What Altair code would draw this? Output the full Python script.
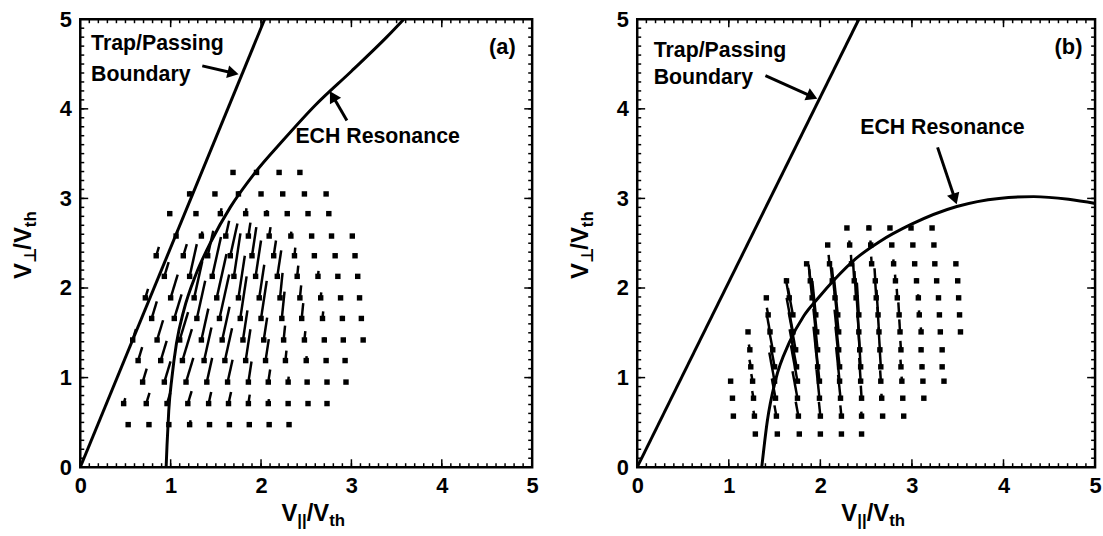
import math
import altair as alt
import pandas as pd

FONT = "Liberation Sans, Arial, DejaVu Sans, sans-serif"
H = 452
W_A = 456
W_B = 462

# ---------------- Panel (a) data ----------------
A_TRAP_X = [0.0, 2.04]
A_TRAP_Y = [0.0, 5.0]
A_ECH_X = [0.95, 0.96, 0.979, 1.014, 1.064, 1.148, 1.275, 1.448, 1.659, 1.928, 2.254, 2.60, 3.0, 3.39, 3.58]
A_ECH_Y = [0.0, 0.25, 0.63, 1.00, 1.38, 1.76, 2.14, 2.52, 2.90, 3.28, 3.66, 4.04, 4.42, 4.80, 5.0]

A_ROWS_Y = [0.475, 0.71, 0.95, 1.19, 1.42, 1.66, 1.89, 2.13, 2.36, 2.58, 2.83, 3.05, 3.29]
A_ROWS_X = [
    [0.53, 0.76, 0.98, 1.21, 1.43, 1.65, 1.87, 2.09, 2.31],
    [0.48, 0.73, 0.96, 1.19, 1.42, 1.64, 1.86, 2.08, 2.30, 2.52, 2.73],
    [0.69, 0.93, 1.17, 1.40, 1.63, 1.86, 2.08, 2.30, 2.51, 2.73, 2.94],
    [0.64, 0.89, 1.13, 1.37, 1.60, 1.83, 2.05, 2.27, 2.50, 2.72, 2.93],
    [0.58, 0.85, 1.10, 1.34, 1.57, 1.80, 2.03, 2.25, 2.48, 2.70, 2.91, 3.13],
    [0.79, 1.04, 1.29, 1.54, 1.77, 2.00, 2.23, 2.45, 2.68, 2.90, 3.11],
    [0.72, 1.00, 1.26, 1.51, 1.75, 1.98, 2.21, 2.43, 2.66, 2.88, 3.09],
    [0.93, 1.21, 1.46, 1.70, 1.94, 2.18, 2.40, 2.63, 2.85, 3.07],
    [0.84, 1.14, 1.41, 1.66, 1.90, 2.14, 2.37, 2.59, 2.82, 3.04],
    [1.06, 1.34, 1.61, 1.86, 2.09, 2.33, 2.56, 2.78, 3.01],
    [0.99, 1.28, 1.55, 1.83, 2.06, 2.29, 2.52, 2.75],
    [1.21, 1.49, 1.75, 2.00, 2.24, 2.48, 2.72],
    [1.69, 1.95, 2.20, 2.43],
]
A_ROWS_L = [
    [0, 0, 0, 0.05, 0, 0, 0, 0, 0],
    [0.06, 0.12, 0.12, 0.14, 0.13, 0.13, 0.10, 0.05, 0.02, 0, 0],
    [0.15, 0.23, 0.27, 0.27, 0.25, 0.23, 0.14, 0.06, 0.02, 0, 0],
    [0.15, 0.22, 0.35, 0.37, 0.36, 0.35, 0.24, 0.11, 0.05, 0.02, 0],
    [0.12, 0.22, 0.31, 0.35, 0.37, 0.33, 0.25, 0.16, 0.10, 0.03, 0, 0],
    [0.19, 0.27, 0.42, 0.49, 0.47, 0.42, 0.30, 0.17, 0.08, 0.03, 0],
    [0.10, 0.26, 0.41, 0.49, 0.47, 0.37, 0.28, 0.14, 0.06, 0.02, 0],
    [0.16, 0.36, 0.44, 0.48, 0.40, 0.29, 0.12, 0.06, 0.02, 0],
    [0.10, 0.13, 0.28, 0.36, 0.32, 0.17, 0.09, 0.03, 0, 0],
    [0.05, 0.05, 0.17, 0.15, 0.10, 0.05, 0.02, 0, 0],
    [0, 0, 0.06, 0.06, 0.04, 0.02, 0, 0],
    [0.03, 0, 0.03, 0.02, 0, 0, 0],
    [0, 0, 0, 0],
]
# lean (dx per unit dy) of the vectors, read in x bands
A_LEAN_X = [0.0, 1.2, 1.7, 2.2]
A_LEAN = [0.30, 0.22, 0.15, 0.10]

A_TEXT_X = [0.12, 0.12, 2.38]
A_TEXT_Y = [4.72, 4.38, 3.68]
A_TEXT = ["Trap/Passing", "Boundary", "ECH Resonance"]
A_ARROW_X1 = [1.35, 2.95]
A_ARROW_Y1 = [4.48, 3.87]
A_ARROW_X2 = [1.755, 2.76]
A_ARROW_Y2 = [4.385, 4.20]
A_TAG = "(a)"
A_TAG_XY = [4.67, 4.69]

# ---------------- Panel (b) data ----------------
B_TRAP_X = [0.0, 2.42]
B_TRAP_Y = [0.0, 5.0]
B_ECH_X = [1.36, 1.42, 1.51, 1.66, 1.82, 1.97, 2.16, 2.39, 2.65, 2.99, 3.49, 3.95, 4.33, 4.71, 5.02]
B_ECH_Y = [0.0, 0.51, 0.97, 1.39, 1.69, 1.88, 2.10, 2.33, 2.52, 2.71, 2.91, 3.00, 3.02, 2.99, 2.94]

B_ROWS_Y = [0.37, 0.57, 0.77, 0.96, 1.12, 1.31, 1.51, 1.70, 1.89, 2.08, 2.27, 2.48, 2.67]
B_ROWS_X = [
    [1.29, 1.53, 1.77, 2.00, 2.23, 2.45],
    [1.05, 1.28, 1.52, 1.76, 2.00, 2.23, 2.45, 2.68, 2.91],
    [1.04, 1.27, 1.51, 1.75, 1.99, 2.22, 2.45, 2.67, 2.90, 3.13],
    [1.02, 1.26, 1.50, 1.75, 1.99, 2.21, 2.44, 2.66, 2.89, 3.12, 3.35],
    [1.24, 1.50, 1.74, 1.97, 2.21, 2.44, 2.66, 2.88, 3.11, 3.33],
    [1.23, 1.48, 1.73, 1.97, 2.20, 2.43, 2.65, 2.88, 3.10, 3.33],
    [1.21, 1.45, 1.70, 1.96, 2.20, 2.42, 2.64, 2.87, 3.10, 3.31, 3.53],
    [1.43, 1.70, 1.95, 2.19, 2.42, 2.63, 2.86, 3.08, 3.30, 3.52],
    [1.41, 1.66, 1.91, 2.16, 2.39, 2.61, 2.84, 3.07, 3.29, 3.51],
    [1.63, 1.89, 2.13, 2.37, 2.60, 2.82, 3.05, 3.27, 3.50],
    [1.85, 2.10, 2.34, 2.56, 2.80, 3.03, 3.25, 3.48],
    [2.08, 2.32, 2.55, 2.78, 3.01, 3.24],
    [2.29, 2.53, 2.76, 2.99, 3.22],
]
B_ROWS_L = [
    [0, 0, 0, 0, 0, 0],
    [0, 0.06, 0.12, 0.16, 0.16, 0.12, 0.05, 0, 0],
    [0, 0.08, 0.22, 0.30, 0.32, 0.26, 0.14, 0.05, 0.02, 0],
    [0, 0.08, 0.32, 0.40, 0.42, 0.38, 0.26, 0.12, 0.05, 0.02, 0],
    [0.08, 0.24, 0.42, 0.45, 0.45, 0.38, 0.22, 0.08, 0.03, 0],
    [0.06, 0.25, 0.42, 0.46, 0.45, 0.38, 0.25, 0.10, 0.03, 0],
    [0, 0.18, 0.38, 0.45, 0.44, 0.38, 0.28, 0.14, 0.05, 0.02, 0],
    [0.08, 0.30, 0.38, 0.42, 0.36, 0.28, 0.14, 0.05, 0.02, 0],
    [0, 0.22, 0.32, 0.34, 0.30, 0.20, 0.10, 0.04, 0, 0],
    [0, 0.18, 0.22, 0.20, 0.14, 0.07, 0.03, 0, 0],
    [0, 0.10, 0.10, 0.08, 0.05, 0.02, 0, 0],
    [0, 0.05, 0.05, 0.02, 0, 0],
    [0, 0.03, 0, 0, 0],
]
B_LEAN_X = [0.0, 1.8, 2.3]
B_LEAN = [-0.18, -0.10, -0.06]

B_TEXT_X = [0.18, 0.18, 2.435]
B_TEXT_Y = [4.65, 4.34, 3.78]
B_TEXT = ["Trap/Passing", "Boundary", "ECH Resonance"]
B_ARROW_X1 = [1.40, 3.28]
B_ARROW_Y1 = [4.37, 3.57]
B_ARROW_X2 = [1.97, 3.49]
B_ARROW_Y2 = [4.11, 2.93]
B_TAG = "(b)"
B_TAG_XY = [4.71, 4.69]

TICKS = [0, 1, 2, 3, 4, 5]
MINOR = [i / 10 for i in range(51)]


def lean_for(x, bx, bv):
    v = bv[0]
    for b, val in zip(bx, bv):
        if x >= b:
            v = val
    return v


def panel(w, trap_x, trap_y, ech_x, ech_y, rows_y, rows_x, rows_l, lean_x, lean_v,
          text_x, text_y, texts, ax1, ay1, ax2, ay2, tag, tag_xy):
    pxx = w / 5.0
    pxy = H / 5.0
    xs = alt.Scale(domain=[0, 5], nice=False, zero=False)
    ys = alt.Scale(domain=[0, 5], nice=False, zero=False)
    axx = alt.Axis(values=TICKS, format="d", labelFont=FONT, labelFontSize=22,
                   labelFontWeight="bold", labelColor="black", ticks=False, domain=False,
                   grid=False, labelPadding=9, title=None, labelFlush=False)
    axy = alt.Axis(values=TICKS, format="d", labelFont=FONT, labelFontSize=22,
                   labelFontWeight="bold", labelColor="black", ticks=False, domain=False,
                   grid=False, labelPadding=9, title=None, labelFlush=False)

    def X(f):
        return alt.X(f, type="quantitative", scale=xs, axis=axx)

    def Y(f):
        return alt.Y(f, type="quantitative", scale=ys, axis=axy)

    layers = []
    # curves
    trap = pd.DataFrame({"x": trap_x, "y": trap_y, "o": range(len(trap_x))})
    layers.append(alt.Chart(trap).mark_line(color="black", strokeWidth=3, clip=True)
                  .encode(x=X("x"), y=Y("y"), order="o:Q"))
    ech = pd.DataFrame({"x": ech_x, "y": ech_y, "o": range(len(ech_x))})
    layers.append(alt.Chart(ech).mark_line(color="black", strokeWidth=3, clip=True,
                                           interpolate="monotone")
                  .encode(x=X("x"), y=Y("y"), order="o:Q"))
    # quiver
    recs = []
    for yy, xr, lr in zip(rows_y, rows_x, rows_l):
        for xx, ll in zip(xr, lr):
            lean = lean_for(xx, lean_x, lean_v)
            recs.append({"x": xx, "y": yy, "x2": xx + lean * ll, "y2": yy + ll, "l": ll})
    q = pd.DataFrame(recs)
    layers.append(alt.Chart(q[q["l"] > 0]).mark_rule(color="black", strokeWidth=2.5)
                  .encode(x=X("x"), y=Y("y"), x2=alt.X2("x2"), y2=alt.Y2("y2")))
    layers.append(alt.Chart(q).mark_square(color="black", size=30, opacity=1)
                  .encode(x=X("x"), y=Y("y")))
    # annotation texts
    tdf = pd.DataFrame({"x": text_x, "y": text_y, "t": texts})
    layers.append(alt.Chart(tdf).mark_text(align="left", baseline="middle", font=FONT,
                                           fontSize=21.5, fontWeight="bold", color="black")
                  .encode(x=X("x"), y=Y("y"), text="t:N"))
    tg = pd.DataFrame({"x": [tag_xy[0]], "y": [tag_xy[1]], "t": [tag]})
    layers.append(alt.Chart(tg).mark_text(align="center", baseline="middle", font=FONT,
                                          fontSize=22, fontWeight="bold", color="black")
                  .encode(x=X("x"), y=Y("y"), text="t:N"))
    # arrows
    arecs = []
    for x1, y1, x2, y2 in zip(ax1, ay1, ax2, ay2):
        dxp = (x2 - x1) * pxx
        dyp = -(y2 - y1) * pxy
        L = math.hypot(dxp, dyp)
        ux, uy = dxp / L, dyp / L
        back = 6.0
        cx = x2 - ux * back / pxx
        cy = y2 + uy * back / pxy
        ang = math.degrees(math.atan2(dxp, -dyp)) % 360
        arecs.append({"x": x1, "y": y1, "x2": cx, "y2": cy, "ang": ang})
    adf = pd.DataFrame(arecs)
    layers.append(alt.Chart(adf).mark_rule(color="black", strokeWidth=3)
                  .encode(x=X("x"), y=Y("y"), x2=alt.X2("x2"), y2=alt.Y2("y2")))
    layers.append(alt.Chart(adf).mark_point(shape="triangle-up", filled=True, size=170,
                                            color="black", opacity=1)
                  .encode(x=X("x2"), y=Y("y2"), angle=alt.Angle("ang:Q", scale=None)))
    # inward ticks on all four sides
    for vals, ln in ((MINOR, 4), (TICKS, 8)):
        tdf2 = pd.DataFrame({"v": vals})
        base = alt.Chart(tdf2).mark_rule(color="black", strokeWidth=1.5)
        layers.append(base.encode(x=X("v"), y=alt.value(H), y2=alt.value(H - ln)))
        layers.append(base.encode(x=X("v"), y=alt.value(0), y2=alt.value(ln)))
        layers.append(base.encode(y=Y("v"), x=alt.value(0), x2=alt.value(ln)))
        layers.append(base.encode(y=Y("v"), x=alt.value(w), x2=alt.value(w - ln)))
    # axis titles built from pieces (subscripts)
    one = pd.DataFrame({"k": [0]})
    big, small = 24, 17
    pieces_x = [("V", big, 0, 16.0), ("||", small, 5, 9.5), ("/V", big, 0, 22.7), ("th", small, 5, 16.0)]
    x0 = w / 2 - 25
    base_y = H + 54
    for txt, fs, sub, wd in pieces_x:
        layers.append(alt.Chart(one).mark_text(align="left", baseline="alphabetic", font=FONT,
                                               fontSize=fs, fontWeight="bold", color="black")
                      .encode(x=alt.value(x0), y=alt.value(base_y + sub), text=alt.value(txt)))
        x0 += wd
    pieces_y = [("V", big, 0, 16.0), ("\u22a5", small, 5, 13.5), ("/V", big, 0, 22.7), ("th", small, 5, 16.0)]
    y0 = H / 2 + 36
    base_x = -50
    for txt, fs, sub, wd in pieces_y:
        layers.append(alt.Chart(one).mark_text(align="left", baseline="alphabetic", font=FONT,
                                               fontSize=fs, fontWeight="bold", color="black",
                                               angle=270)
                      .encode(x=alt.value(base_x + sub), y=alt.value(y0), text=alt.value(txt)))
        y0 -= wd
    return alt.layer(*layers).properties(width=w, height=H)


pa = panel(W_A, A_TRAP_X, A_TRAP_Y, A_ECH_X, A_ECH_Y, A_ROWS_Y, A_ROWS_X, A_ROWS_L,
           A_LEAN_X, A_LEAN, A_TEXT_X, A_TEXT_Y, A_TEXT, A_ARROW_X1, A_ARROW_Y1,
           A_ARROW_X2, A_ARROW_Y2, A_TAG, A_TAG_XY)
pb = panel(W_B, B_TRAP_X, B_TRAP_Y, B_ECH_X, B_ECH_Y, B_ROWS_Y, B_ROWS_X, B_ROWS_L,
           B_LEAN_X, B_LEAN, B_TEXT_X, B_TEXT_Y, B_TEXT, B_ARROW_X1, B_ARROW_Y1,
           B_ARROW_X2, B_ARROW_Y2, B_TAG, B_TAG_XY)

chart = (alt.hconcat(pa, pb, spacing=27)
         .properties(padding={"left": 10, "top": 4, "right": 0, "bottom": 0},
                     background="white")
         .configure_view(stroke="black", strokeWidth=2.5))

chart.save("out.html", embed_options={"renderer": "svg", "actions": False})
